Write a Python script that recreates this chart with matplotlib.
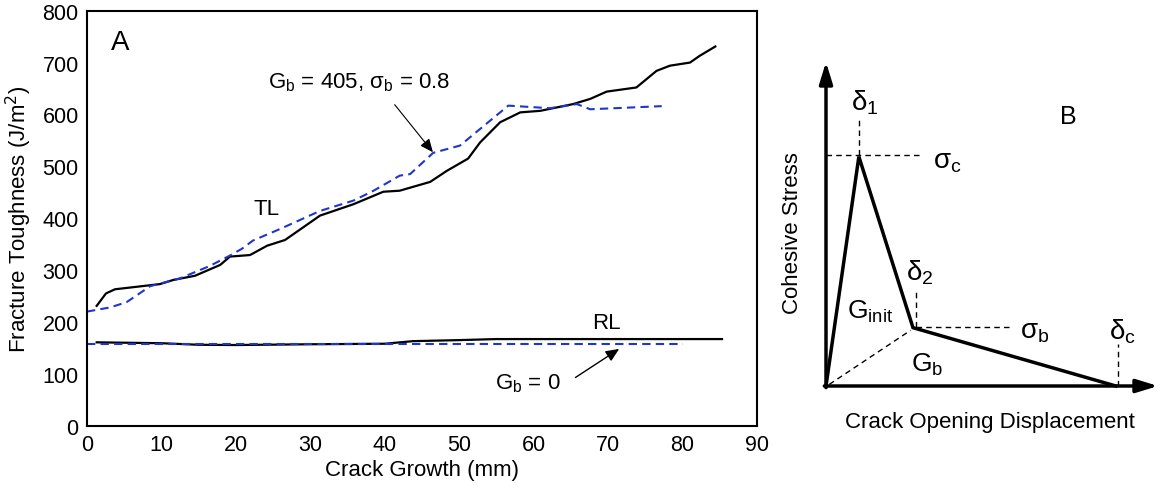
import matplotlib
matplotlib.use("Agg")
import matplotlib.pyplot as plt

plt.rcParams['font.family'] = ['Liberation Sans', 'DejaVu Sans']

# ---------------- Panel A data ----------------
tl_exp_x = [1.3, 2.55, 3.76, 6.2, 9.8, 11.6, 14.5, 17.9, 19.2, 21.9, 24.2, 26.6, 31.3, 35.8,
            39.8, 42.0, 46.1, 48.3, 51.2, 52.8, 55.5, 58.2, 60.9, 65.3, 67.6, 69.8, 73.8,
            76.5, 78.3, 81.0, 82.3, 84.4]
tl_exp_y = [231, 255, 263, 267, 273, 281, 289, 310, 326, 329, 347, 358, 405, 427,
            451, 453, 470, 491, 515, 546, 585, 604, 607, 620, 630, 644, 652,
            684, 694, 700, 713, 731]

tl_sim_x = [0.0, 3.1, 5.3, 8.5, 12.5, 16.5, 19.2, 20.8, 22.3, 25.9, 31.3, 35.8, 38.5, 42.0,
            43.4, 46.5, 50.1, 52.8, 56.6, 62.2, 65.8, 67.6, 77.2]
tl_sim_y = [220, 228, 238, 269, 284, 308, 328, 341, 357, 379, 414, 434, 453, 482,
            485, 526, 540, 572, 617, 612, 620, 610, 616]

rl_exp_x = [1.3, 10.0, 15.0, 20.0, 30.0, 40.0, 43.8, 50.0, 55.0, 70.0, 85.3]
rl_exp_y = [160.7, 159, 156, 155.5, 157, 158, 163, 165, 167, 167, 167]

rl_sim_x = [0.0, 80.1]
rl_sim_y = [157.5, 157.5]

x_ticks = [0, 10, 20, 30, 40, 50, 60, 70, 80, 90]
y_ticks = [0, 100, 200, 300, 400, 500, 600, 700, 800]

# ---------------- Panel B data (schematic units) ----------------
law_delta = [0.0, 0.99, 2.62, 8.73]
law_sigma = [0.0, 7.08, 1.80, 0.0]
sigma_c = 7.13
sigma_b = 1.82
delta_1 = 0.99
delta_2 = 2.70
delta_c = 8.80

fig = plt.figure(figsize=(11.6, 4.89), dpi=100)

# ---------------- Panel A ----------------
ax = fig.add_axes([87/1160, 1-426.7/489, 670/1160, 415/489])
ax.plot(tl_exp_x, tl_exp_y, color='black', lw=1.6)
ax.plot(tl_sim_x, tl_sim_y, color='#1f35cc', lw=1.5, ls=(0, (4, 2.5)))
ax.plot(rl_exp_x, rl_exp_y, color='black', lw=1.6)
ax.plot(rl_sim_x, rl_sim_y, color='#1f35cc', lw=1.5, ls=(0, (4, 2.5)))

ax.set_xlim(0, 90)
ax.set_ylim(0, 800)
ax.set_xticks(x_ticks)
ax.set_yticks(y_ticks)
ax.tick_params(length=0, labelsize=15.5, pad=6)
for s in ax.spines.values():
    s.set_linewidth(1.5)
ax.set_xlabel('Crack Growth (mm)', fontsize=16, labelpad=3)
ax.set_ylabel('Fracture Toughness (J/m$^2$)', fontsize=16, labelpad=6)

ax.text(4.4, 740, 'A', fontsize=20, ha='center', va='center')
ax.text(24.1, 418, 'TL', fontsize=16, ha='center', va='center')
ax.text(69.8, 199, 'RL', fontsize=16, ha='center', va='center')
ax.text(36.5, 663, r'G$_\mathregular{b}$ = 405, $\mathregular{\sigma_b}$ = 0.8', fontsize=16,
        ha='center', va='center')
ax.annotate('', xy=(46.7, 523), xytext=(41.1, 623),
            arrowprops=dict(arrowstyle='-|>,head_length=0.8,head_width=0.35', color='black', lw=0.8))
ax.text(59.2, 83, r'G$_\mathregular{b}$ = 0', fontsize=16, ha='center', va='center')
ax.annotate('', xy=(71.8, 151), xytext=(65.3, 90),
            arrowprops=dict(arrowstyle='-|>,head_length=0.8,head_width=0.35', color='black', lw=1.0))

# ---------------- Panel B ----------------
bx = fig.add_axes([826/1160, 1-387/489, 332/1160, 324/489])
bx.set_xlim(0, 10)
bx.set_ylim(0, 10)
bx.axis('off')

bx.annotate('', xy=(0, 10), xytext=(0, -0.05),
            arrowprops=dict(arrowstyle='-|>,head_length=1.3,head_width=0.4', color='black', lw=2.5,
                            shrinkA=0, shrinkB=0), annotation_clip=False)
bx.annotate('', xy=(10, 0), xytext=(-0.05, 0),
            arrowprops=dict(arrowstyle='-|>,head_length=1.3,head_width=0.4', color='black', lw=2.5,
                            shrinkA=0, shrinkB=0), annotation_clip=False)

bx.plot(law_delta, law_sigma, color='black', lw=2.5, clip_on=False, solid_joinstyle='miter')

dkw = dict(color='black', lw=1.0, ls=(0, (4, 3)), clip_on=False)
bx.plot([0, 2.92], [sigma_c, sigma_c], **dkw)
bx.plot([delta_1, delta_1], [sigma_c, 8.3], **dkw)
bx.plot([delta_2, delta_2], [sigma_b, 3.0], **dkw)
bx.plot([delta_2, 5.63], [sigma_b, sigma_b], **dkw)
bx.plot([delta_c, delta_c], [0, 1.3], **dkw)
bx.plot([0.1, 2.55], [0.05, 1.72], **dkw)

tkw = dict(fontsize=20, ha='center', va='center')
gkw = dict(fontsize=19, ha='center', va='center')
bx.text(1.17, 8.77, r'$\mathregular{\delta_1}$', **tkw)
bx.text(3.64, 6.94, r'$\mathregular{\sigma_c}$', **tkw)
bx.text(7.29, 8.33, 'B', fontsize=18, ha='center', va='center')
bx.text(2.83, 3.52, r'$\mathregular{\delta_2}$', **tkw)
bx.text(1.33, 2.31, r'G$_\mathregular{init}$', **gkw)
bx.text(6.3, 1.70, r'$\mathregular{\sigma_b}$', **tkw)
bx.text(8.92, 1.70, r'$\mathregular{\delta_c}$', **tkw)
bx.text(3.04, 0.68, r'G$_\mathregular{b}$', **gkw)
bx.text(-1.02, 4.75, 'Cohesive Stress', fontsize=16, rotation=90, ha='center', va='center')
bx.text(4.94, -1.11, 'Crack Opening Displacement', fontsize=16, ha='center', va='center')

fig.savefig('out.png', dpi=100)
